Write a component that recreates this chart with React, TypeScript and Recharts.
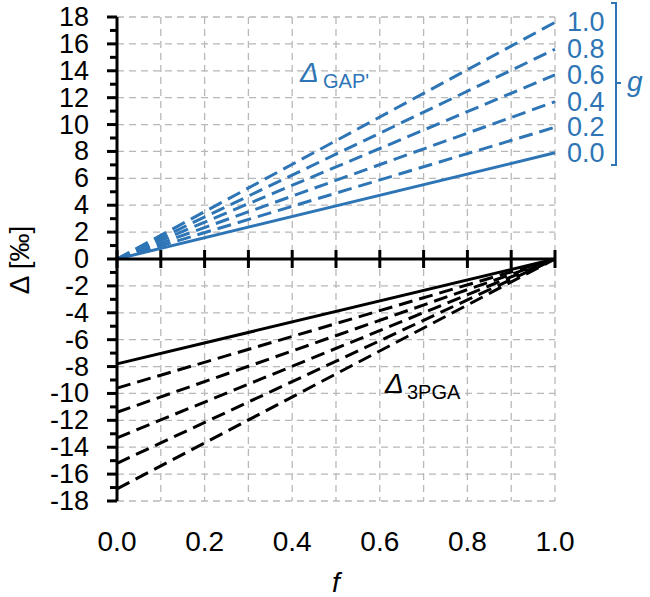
import { LineChart, Line, XAxis, YAxis, CartesianGrid, ReferenceLine, Customized } from 'recharts';

const F_POINTS = [0, 1];
const G_LABELS = ['0.0', '0.2', '0.4', '0.6', '0.8', '1.0'];
// Δ_GAP' rises from 0 at f=0 to these values at f=1
const GAP_AT_F1 = [7.9, 9.8, 11.7, 13.7, 15.6, 17.6];
// Δ_3PGA starts at these values at f=0 and reaches 0 at f=1
const PGA_AT_F0 = [-7.8, -9.6, -11.4, -13.3, -15.2, -17.1];
const X_TICKS = [0, 0.1, 0.2, 0.3, 0.4, 0.5, 0.6, 0.7, 0.8, 0.9, 1.0];
const Y_TICKS = [-18, -16, -14, -12, -10, -8, -6, -4, -2, 0, 2, 4, 6, 8, 10, 12, 14, 16, 18];

const BLUE = '#2e75b6';
const FONT = '"Liberation Sans", Arial, sans-serif';
const W = 650;
const H = 597;
const TOP = 17;
const X_AXIS_H = 96;
const PLOT_H = H - TOP - X_AXIS_H;

const data = F_POINTS.map((f, i) => {
  const row: Record<string, number> = { f };
  G_LABELS.forEach((_, k) => {
    row[`gap${k}`] = i === 0 ? 0 : GAP_AT_F1[k];
    row[`pga${k}`] = i === 0 ? PGA_AT_F0[k] : 0;
  });
  return row;
});

function YTick(props: any) {
  const { x, y, payload } = props;
  const v = payload.value;
  const half = PLOT_H / 36;
  return (
    <g>
      <line x1={x - 10} x2={x} y1={y} y2={y} stroke="#000" strokeWidth={3} />
      {v > -18 && <line x1={x - 7} x2={x} y1={y + half} y2={y + half} stroke="#000" strokeWidth={3} />}
      <text x={x - 28} y={y} textAnchor="end" dominantBaseline="central" fontSize={27} fill="#000" fontFamily={FONT}>
        {v}
      </text>
    </g>
  );
}

function XTick(props: any) {
  const { x, y, payload } = props;
  const v = payload.value;
  const mid = y - PLOT_H / 2;
  const showLabel = Math.round(v * 10) % 2 === 0;
  return (
    <g>
      <line x1={x} x2={x} y1={mid - 9} y2={mid + 9} stroke="#000" strokeWidth={3} />
      {showLabel && (
        <text x={x} y={y + 40} textAnchor="middle" dominantBaseline="central" fontSize={28} fill="#000" fontFamily={FONT}>
          {v.toFixed(1)}
        </text>
      )}
    </g>
  );
}

const gLabel = (k: number) => (p: any) => {
  if (p.index !== 1) return null;
  return (
    <text key={`g-${k}`} x={p.x + 12} y={p.y} dominantBaseline="central" fontSize={27} fill={BLUE} fontFamily={FONT}>
      {G_LABELS[k]}
    </text>
  );
};

function Annotations() {
  return (
    <g fontFamily={FONT}>
      <path d="M611,3 H616 V165 H611 M616,83 H621" fill="none" stroke={BLUE} strokeWidth={2} />
      <text x={627} y={91} fontSize={28} fontStyle="italic" fill={BLUE}>g</text>
      <text x={300} y={82} fontSize={28} fontStyle="italic" fill={BLUE}>Δ</text>
      <text x={323} y={88} fontSize={20} fill={BLUE}>GAP'</text>
      <text x={385} y={393} fontSize={28} fontStyle="italic" fill="#000">Δ</text>
      <text x={407} y={399} fontSize={20} fill="#000">3PGA</text>
      <text x={336} y={592} fontSize={28} fontStyle="italic" textAnchor="middle" fill="#000">f</text>
      <text transform="translate(29,260) rotate(-90)" textAnchor="middle" fontSize={28} fill="#000">
        Δ [‰]
      </text>
    </g>
  );
}

export default function App() {
  return (
    <div style={{ position: 'absolute', left: 0, top: 0, background: '#fff' }}>
      <LineChart width={W} height={H} data={data} margin={{ top: TOP, right: 95, bottom: 0, left: 0 }}>
        <CartesianGrid stroke="#b8b8b8" strokeWidth={1.3} strokeDasharray="7 5" />
        <XAxis
          dataKey="f"
          type="number"
          domain={[0, 1]}
          ticks={X_TICKS}
          height={X_AXIS_H}
          axisLine={false}
          tickLine={false}
          tickSize={0}
          tickMargin={0}
          tick={<XTick />}
          interval={0}
        />
        <YAxis
          type="number"
          domain={[-18, 18]}
          ticks={Y_TICKS}
          width={117}
          axisLine={{ stroke: '#000', strokeWidth: 3 }}
          tickLine={false}
          tickSize={0}
          tickMargin={0}
          tick={<YTick />}
          interval={0}
        />
        {G_LABELS.map((_, k) => (
          <Line
            key={`pga${k}`}
            dataKey={`pga${k}`}
            stroke="#000"
            strokeWidth={3}
            strokeDasharray={k === 0 ? undefined : '14 7'}
            dot={false}
            isAnimationActive={false}
          />
        ))}
        {G_LABELS.map((_, k) => (
          <Line
            key={`gap${k}`}
            dataKey={`gap${k}`}
            stroke={BLUE}
            strokeWidth={3}
            strokeDasharray={k === 0 ? undefined : '14 7'}
            dot={false}
            label={gLabel(k)}
            isAnimationActive={false}
          />
        ))}
        <ReferenceLine y={0} stroke="#000" strokeWidth={3} />
        <Customized component={Annotations} />
      </LineChart>
    </div>
  );
}
